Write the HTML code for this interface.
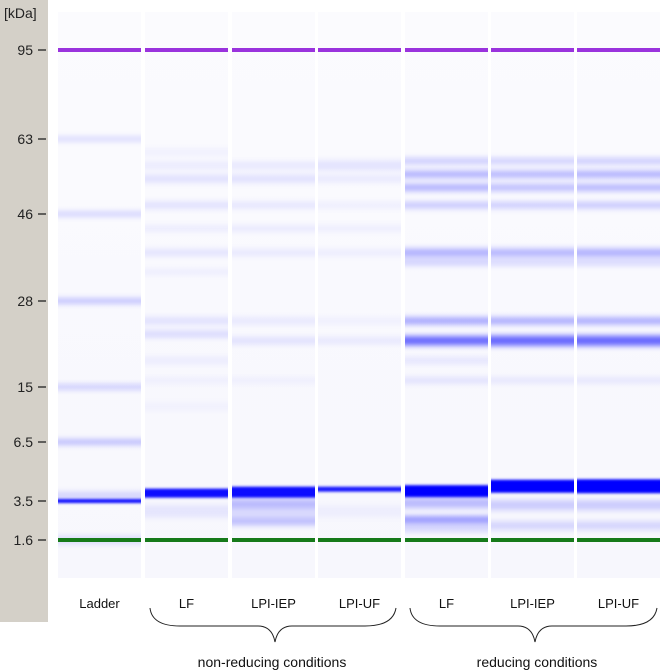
<!DOCTYPE html>
<html><head><meta charset="utf-8"><style>
html,body{margin:0;padding:0;background:#fff;}
svg{display:block;font-family:"Liberation Sans",sans-serif;}
</style></head><body>
<svg id="gel" width="661" height="671" viewBox="0 0 661 671" xmlns="http://www.w3.org/2000/svg">
<defs>
<filter id="blur" x="-5%" y="-20%" width="110%" height="140%"><feGaussianBlur stdDeviation="0 2.8"/></filter>
<filter id="blur2" x="-5%" y="-20%" width="110%" height="140%"><feGaussianBlur stdDeviation="0 1.2"/></filter>
<linearGradient id="laneBg" x1="0" y1="0" x2="0" y2="1"><stop offset="0" stop-color="#fbfbfe"/><stop offset="1" stop-color="#f7f7fd"/></linearGradient>
</defs>
<rect x="0" y="0" width="48" height="622" fill="#d4d0c8"/>
<text x="4" y="18" font-size="14" fill="#222">[kDa]</text>
<g id="axis"></g>
<g id="lanes"></g>
<g id="bands" filter="url(#blur)"></g>
<g id="strong" filter="url(#blur2)"></g>
<g id="markers"></g>
<g id="labels"></g>
<path d="M150,608 Q152,626 180,626 L258,626 Q272,626 275,642 Q278,626 292,626 L365,626 Q393,626 396,608" fill="none" stroke="#222" stroke-width="1"/>
<path d="M410,608 Q412,626 440,626 L518,626 Q532,626 535,642 Q538,626 552,626 L626,626 Q654,626 657,608" fill="none" stroke="#222" stroke-width="1"/>
<text x="272" y="667" font-size="14" text-anchor="middle" fill="#111">non-reducing conditions</text>
<text x="537" y="667" font-size="14" text-anchor="middle" fill="#111">reducing conditions</text>
</svg>
<script>
const markerKda = [95, 63, 46, 28, 15, 6.5, 3.5, 1.6];
const tickLabels = ["95", "63", "46", "28", "15", "6.5", "3.5", "1.6"];
const laneNames = ["Ladder", "LF", "LPI-IEP", "LPI-UF", "LF", "LPI-IEP", "LPI-UF"];
// bands per lane: [kDa, intensity, thickness]
const bandsLadder = [[63,0.16,4],[46,0.2,4],[28,0.25,5],[15,0.2,5],[6.5,0.28,5],[3.5,0.95,4],[3.8,0.2,5],[1.6,0.12,8]];
const bandsNrLF = [[60,0.04,8],[57,0.06,8],[54,0.1,8],[48,0.1,7],[43,0.06,6],[38,0.09,7],[34,0.05,6],[25,0.1,7],[23,0.13,7],[19,0.05,8],[16,0.04,7],[12,0.03,8],[3.9,0.95,9],[3.0,0.08,12]];
const bandsNrIEP = [[57,0.07,8],[54,0.1,8],[48,0.09,6],[43,0.07,6],[38,0.07,7],[25,0.07,7],[22,0.1,7],[16,0.04,7],[3.95,0.95,11],[3.4,0.25,8],[2.5,0.25,7],[3.0,0.12,12]];
const bandsNrUF = [[57,0.09,10],[54,0.07,7],[48,0.05,6],[43,0.05,6],[38,0.05,7],[25,0.04,7],[22,0.07,7],[4.1,0.9,5],[3.0,0.04,12]];
const bandsRLF = [[58,0.2,6],[55,0.3,7],[52,0.3,7],[48,0.22,6],[38,0.3,8],[36,0.18,6],[25,0.35,7],[22,0.6,9],[19,0.08,7],[16,0.1,6],[4.0,1,12],[3.4,0.25,10],[2.6,0.45,6],[2.2,0.15,8]];
const bandsRIEP = [[58,0.18,6],[55,0.28,7],[52,0.25,7],[48,0.2,6],[38,0.28,8],[36,0.15,6],[25,0.32,7],[22,0.6,10],[16,0.08,6],[4.25,1,13],[3.3,0.18,10],[2.3,0.15,8]];
const bandsRUF = [[58,0.2,6],[55,0.3,7],[52,0.28,7],[48,0.22,6],[38,0.3,8],[36,0.15,6],[25,0.32,7],[22,0.6,10],[16,0.08,6],[4.25,1,14],[3.3,0.18,10],[2.3,0.15,8]];
const allBands = [bandsLadder, bandsNrLF, bandsNrIEP, bandsNrUF, bandsRLF, bandsRIEP, bandsRUF];

const NS = "http://www.w3.org/2000/svg";
const markerY = [50, 139, 214, 301, 387, 442, 501, 540];
function yOf(k){
  if (k >= markerKda[0]) return markerY[0];
  for (let i=0;i<markerKda.length-1;i++){
    const a=markerKda[i], b=markerKda[i+1];
    if (k<=a && k>=b) return markerY[i] + (a-k)/(a-b)*(markerY[i+1]-markerY[i]);
  }
  return markerY[markerY.length-1];
}
const laneX0 = 58, laneW = 83, laneStep = [0,87,174,260,347,433,519];
function laneX(i){ return laneX0 + laneStep[i]; }
function mk(tag, attrs, parent){ const e=document.createElementNS(NS,tag); for(const k in attrs) e.setAttribute(k,attrs[k]); parent.appendChild(e); return e; }

const axis = document.getElementById('axis');
markerKda.forEach((k,i)=>{
  const y=yOf(k);
  const t=mk('text',{x:33,y:y+5,'font-size':14,'text-anchor':'end',fill:'#222'},axis);
  t.textContent=tickLabels[i];
  
  
  const l=mk('line',{x1:38,x2:46,y1:y,y2:y,stroke:'#222','stroke-width':1.3},axis);
  
  
});
const lanes=document.getElementById('lanes'), bands=document.getElementById('bands'), strong=document.getElementById('strong'), markers=document.getElementById('markers'), labels=document.getElementById('labels');
laneNames.forEach((n,i)=>{
  const x=laneX(i);
  const r=mk('rect',{x:x,y:12,width:laneW,height:566,fill:'url(#laneBg)'},lanes);
  
  
  allBands[i].forEach(b=>{
    const y=yOf(b[0]);
    const br=mk('rect',{x:x,y:y-b[2]/2,width:laneW,height:b[2],fill:'#0000ff','fill-opacity':b[1]},b[1]>0.8?strong:bands);
    
    
  });
  const up=mk('rect',{x:x,y:yOf(95)-2,width:laneW,height:4,fill:'#9a33dd'},markers);
  
  
  const lo=mk('rect',{x:x,y:yOf(1.6)-2,width:laneW,height:4,fill:'#167a1a'},markers);
  
  
  const t=mk('text',{x:x+laneW/2,y:608,'font-size':13,'text-anchor':'middle',fill:'#111'},labels);
  t.textContent=n;
  
  
});
</script>
</body></html>
